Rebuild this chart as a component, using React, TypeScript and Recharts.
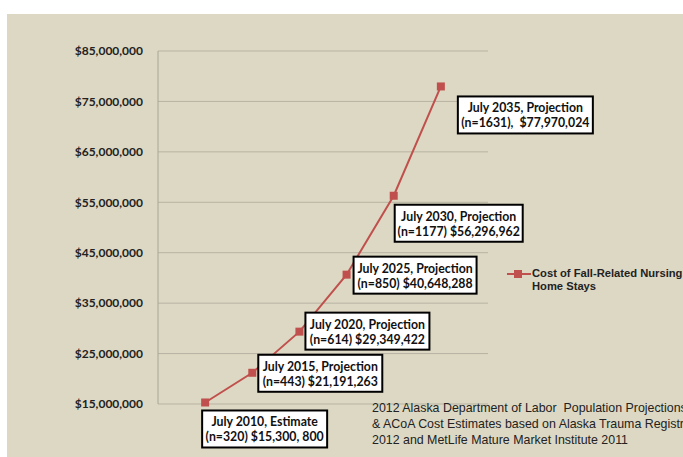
import React from 'react';
import {
  LineChart,
  Line,
  XAxis,
  YAxis,
  CartesianGrid,
  LabelList,
} from 'recharts';

const years = [2010, 2015, 2020, 2025, 2030, 2035];
const costs = [15300800, 21191263, 29349422, 40648288, 56296962, 77970024];
const periodLabels = [
  'July 2010, Estimate',
  'July 2015, Projection',
  'July 2020, Projection',
  'July 2025, Projection',
  'July 2030, Projection',
  'July 2035, Projection',
];
const detailLabels = [
  '(n=320) $15,300, 800',
  '(n=443) $21,191,263',
  '(n=614) $29,349,422',
  '(n=850) $40,648,288',
  '(n=1177) $56,296,962',
  '(n=1631),  $77,970,024',
];
const yTicks = [15000000, 25000000, 35000000, 45000000, 55000000, 65000000, 75000000, 85000000];
const legendLines = ['Cost of Fall-Related Nursing', 'Home Stays'];
const sourceLines = [
  '2012 Alaska Department of Labor  Population Projections',
  '& ACoA Cost Estimates based on Alaska Trauma Registry',
  '2012 and MetLife Mature Market Institute 2011',
];

// box placement relative to each point (left, top, width)
const boxOffsets = [
  { dx: -3, dy: 8, w: 125 },
  { dx: 6, dy: -18, w: 124 },
  { dx: 6, dy: -19, w: 124 },
  { dx: 7, dy: -18, w: 123 },
  { dx: 1, dy: 9, w: 128 },
  { dx: 17, dy: 10, w: 135 },
];

const RED = '#C0504D';
const BG = '#DDD8C3';

const data = years.map((y, i) => ({ year: y, cost: costs[i] }));

function SquareDot({ cx, cy }: any) {
  if (cx == null || cy == null) return null;
  return <rect x={cx - 4} y={cy - 4} width={8} height={8} fill={RED} />;
}

function CalloutBox(props: any) {
  const { x, y, index } = props;
  const o = boxOffsets[index];
  const left = x + o.dx;
  const top = y + o.dy;
  const cx = left + o.w / 2;
  const textProps = {
    x: cx,
    textAnchor: 'middle' as const,
    fontFamily: 'Lato, sans-serif',
    fontWeight: 'bold',
    fontSize: 12.3,
    fill: '#111',
  };
  return (
    <g>
      <rect x={left} y={top} width={o.w} height={37} fill="#fff" stroke="#000" strokeWidth={2} />
      <text {...textProps} y={top + 16}>
        {periodLabels[index]}
      </text>
      <text {...textProps} y={top + 31} style={{ whiteSpace: 'pre' }}>
        {detailLabels[index]}
      </text>
    </g>
  );
}

const fmt = (v: number) => '$' + v.toLocaleString('en-US');

export default function App() {
  return (
    <div
      style={{
        position: 'absolute',
        left: 0,
        top: 0,
        width: 683,
        height: 457,
        background: '#fff',
        overflow: 'hidden',
      }}
    >
      <div style={{ position: 'absolute', left: 7, top: 14, right: 0, bottom: 0, background: BG }} />
      <div style={{ position: 'absolute', left: 0, top: 0 }}>
        <LineChart
          width={683}
          height={457}
          data={data}
          margin={{ top: 51, right: 195, bottom: 53, left: 58 }}
        >
          <CartesianGrid vertical={false} stroke="#B7B3A3" strokeWidth={1} />
          <XAxis dataKey="year" type="number" domain={[2005, 2040]} hide />
          <YAxis
            type="number"
            domain={[15000000, 85000000]}
            ticks={yTicks}
            width={100}
            tickLine={false}
            tickSize={6}
            tickMargin={9}
            axisLine={{ stroke: '#A8A596' }}
            tickFormatter={fmt}
            tick={{ fontSize: 12, fontWeight: 'bold', fill: '#222', fontFamily: 'Lato, sans-serif' }}
            interval={0}
          />
          <Line
            type="linear"
            dataKey="cost"
            stroke={RED}
            strokeWidth={2}
            dot={<SquareDot />}
            activeDot={false}
            isAnimationActive={false}
          >
            <LabelList dataKey="cost" content={<CalloutBox />} />
          </Line>
        </LineChart>
      </div>
      <div
        style={{
          position: 'absolute',
          left: 507,
          top: 267,
          display: 'flex',
          alignItems: 'flex-start',
          fontFamily: 'Arial, "Liberation Sans", sans-serif',
          fontWeight: 'bold',
          fontSize: 11.2,
          color: '#222',
          lineHeight: '13px',
          whiteSpace: 'nowrap',
        }}
      >
        <svg width={24} height={12} style={{ flex: 'none', marginTop: 1 }}>
          <line x1={0} y1={6} x2={24} y2={6} stroke={RED} strokeWidth={2} />
          <rect x={7} y={2} width={8} height={8} fill={RED} />
        </svg>
        <div style={{ marginLeft: 1 }}>
          {legendLines.map((l) => (
            <div key={l}>{l}</div>
          ))}
        </div>
      </div>
      <div
        style={{
          position: 'absolute',
          left: 372,
          top: 401,
          fontFamily: 'Arial, "Liberation Sans", sans-serif',
          fontSize: 12.4,
          lineHeight: '15.8px',
          color: '#222',
          whiteSpace: 'pre',
        }}
      >
        {sourceLines.map((l) => (
          <div key={l}>{l}</div>
        ))}
      </div>
    </div>
  );
}
